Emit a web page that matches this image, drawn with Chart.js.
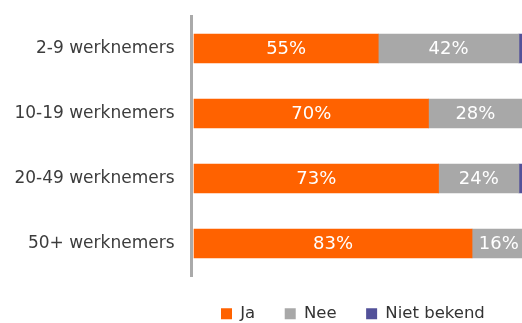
<!DOCTYPE html>
<html lang="nl">
<head>
    <meta charset="UTF-8">
    <title>Werknemers</title>
    <script src="https://cdn.jsdelivr.net/npm/chart.js"></script>
    <style>
        html, body { margin: 0; padding: 0; background: #fff; overflow: hidden; }
        .wrap { width: 529px; height: 332px; }
    </style>
</head>
<body>
    <div class="wrap">
        <canvas id="chart" width="529" height="332"></canvas>
    </div>
    <script>
        const categories = ['2-9 werknemers', '10-19 werknemers', '20-49 werknemers', '50+ werknemers'];
        const ja = [55, 70, 73, 83];
        const nee = [42, 28, 24, 16];
        const nietBekend = [3, 2, 3, 1];

        // waarden in de balken
        const valueLabels = {
            id: 'valueLabels',
            afterDatasetsDraw(chart) {
                const ctx = chart.ctx;
                ctx.save();
                ctx.font = '18px "DejaVu Sans"';
                ctx.fillStyle = '#ffffff';
                ctx.textAlign = 'center';
                ctx.textBaseline = 'middle';
                [0, 1].forEach(function (di) {
                    const meta = chart.getDatasetMeta(di);
                    meta.data.forEach(function (bar, i) {
                        const p = bar.getProps(['x', 'y', 'base'], true);
                        const v = chart.data.datasets[di].data[i];
                        ctx.fillText(v + '%', (p.x + p.base) / 2, p.y + 1);
                    });
                });
                ctx.restore();
            }
        };

        new Chart(document.getElementById('chart'), {
            type: 'bar',
            data: {
                labels: categories,
                datasets: [
                    { label: 'Ja', data: ja, backgroundColor: '#ff6200', barThickness: 29 },
                    { label: 'Nee', data: nee, backgroundColor: '#a8a8a8', barThickness: 29 },
                    { label: 'Niet bekend', data: nietBekend, backgroundColor: '#525199', barThickness: 29 }
                ]
            },
            options: {
                indexAxis: 'y',
                responsive: false,
                animation: false,
                layout: { padding: { top: 16, right: 0, bottom: 0, left: 0 } },
                plugins: {
                    tooltip: { enabled: false },
                    legend: {
                        position: 'bottom',
                        fullSize: false,
                        align: 'start',
                        labels: {
                            boxWidth: 11,
                            boxHeight: 11,
                            padding: 29.5,
                            color: '#333333',
                            font: { family: '"DejaVu Sans"', size: 16.5 }
                        }
                    }
                },
                scales: {
                    x: {
                        stacked: true,
                        display: false,
                        min: -0.75,
                        max: 100
                    },
                    y: {
                        stacked: true,
                        grid: { display: false, drawTicks: false },
                        border: { display: true, color: '#aaaaaa', width: 3 },
                        ticks: {
                            padding: 17,
                            color: '#3c3c3c',
                            font: { family: '"DejaVu Sans"', size: 17 }
                        },
                        afterFit(scale) {
                            scale.width = 191.5;
                            // tick padding should not push the plot down
                            scale.paddingTop = 0;
                            scale.paddingBottom = 0;
                        }
                    }
                }
            },
            plugins: [valueLabels]
        });
    </script>
</body>
</html>
